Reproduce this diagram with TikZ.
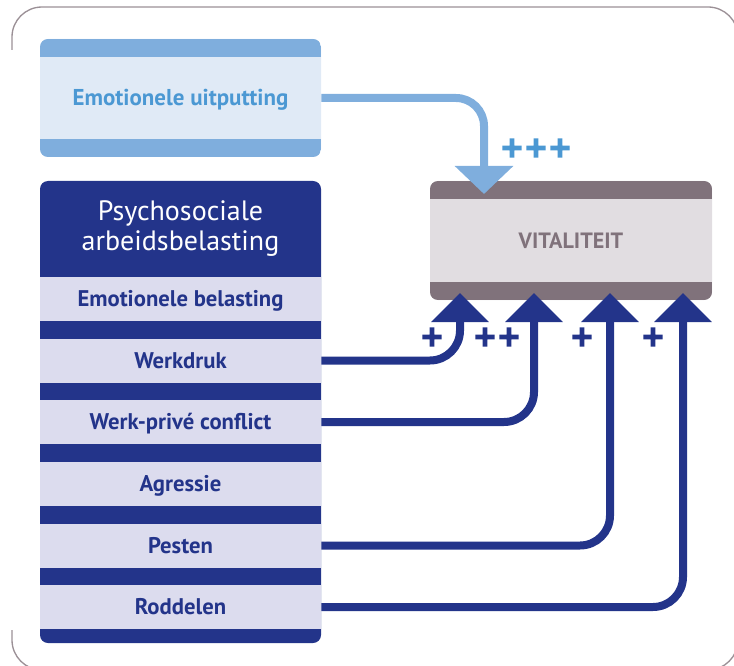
\documentclass[tikz,border=0pt]{standalone}
\usepackage{fontspec}
\setmainfont{PT Sans}
\newfontfamily\plusfont{DejaVu Sans}[FakeBold=5]
\usetikzlibrary{arrows.meta}
\definecolor{dblue}{HTML}{23348A}
\definecolor{rowfill}{HTML}{DCDCEE}
\definecolor{lband}{HTML}{7FAEDD}
\definecolor{lfill}{HTML}{E0EAF6}
\definecolor{ltext}{HTML}{4B98D3}
\definecolor{mauve}{HTML}{80727B}
\definecolor{mfill}{HTML}{E1DDE1}
\definecolor{frame}{HTML}{9B9096}
\tikzset{
  bandbox/.style 2 args={rounded corners=6pt, fill=#1, inner sep=0pt,
    path picture={
      \fill[#2, sharp corners] (path picture bounding box.north west) rectangle ([yshift=-13.5pt]path picture bounding box.north east);
      \fill[#2, sharp corners] (path picture bounding box.south west) rectangle ([yshift=13.5pt]path picture bounding box.south east);}},
  rowbox/.style={fill=rowfill, minimum width=210.75pt, minimum height=33pt, inner sep=0pt,
    text=dblue, font=\bfseries\fontsize{17}{20}\selectfont, text height=11.9pt, text depth=0pt},
  darkconn/.style={draw=dblue, line width=6pt, rounded corners=22.5pt,
    -{Triangle[width=42pt,length=21.75pt]}},
  lightconn/.style={draw=lband, line width=6pt, rounded corners=21pt,
    -{Triangle[width=42.75pt,length=21pt]}},
  pluslbl/.style={inner sep=0pt, font=\plusfont\bfseries\fontsize{21.5}{21.5}\selectfont}
}
\begin{document}
\begin{tikzpicture}[x=0.75pt,y=-0.75pt]
\useasboundingbox (0,0) rectangle (734,666);
% outer frame
\draw[frame, line width=1pt, rounded corners=22.5pt] (12,50) -- (12,7) -- (738,7) -- (738,670) -- (12,670) -- (12,630);
% Emotionele uitputting
\node[bandbox={lfill}{lband}, minimum width=210.75pt, minimum height=88.5pt,
  text=ltext, font=\bfseries\fontsize{17.2}{20}\selectfont, text height=12pt, text depth=-1.5pt] (uit) at (180.5,98) {Emotionele uitputting};
% Psychosociale box
\node[fill=dblue, rounded corners=6pt, minimum width=210.75pt, minimum height=346.5pt, inner sep=0pt] (psb) at (180.5,412) {};
\node[text=white, align=center, inner sep=0pt, font=\fontsize{21}{22.5}\selectfont] (head) at (180.5,229) {Psychosociale\\arbeidsbelasting};
\node[rowbox] (emo) at (180.5,299) {Emotionele belasting};
\node[rowbox] (wd) at (180.5,360.5) {Werkdruk};
\node[rowbox] (wp) at (180.5,422) {Werk-privé conflict};
\node[rowbox] (agr) at (180.5,484) {Agressie};
\node[rowbox] (pes) at (180.5,545.5) {Pesten};
\node[rowbox] (rod) at (180.5,607) {Roddelen};
% Vitaliteit
\node[bandbox={mfill}{mauve}, minimum width=211.5pt, minimum height=89.25pt,
  text=mauve, font=\bfseries\fontsize{16.6}{20}\selectfont, text height=11.6pt, text depth=-3.8pt] (vit) at (571,240.5) {VITALITEIT};
% tips
\coordinate (tu) at (484,194);
\coordinate (t1) at (460,293);
\coordinate (t2) at (534,293);
\coordinate (t3) at (610,293);
\coordinate (t4) at (683,293);
% connectors
\draw[lightconn] (uit.east) -| (tu);
\draw[darkconn] (wd.east) -| (t1);
\draw[darkconn] (wp.east) -| (t2);
\draw[darkconn] (pes.east) -| (t3);
\draw[darkconn] (rod.east) -| (t4);
% labels
\node[pluslbl, text=ltext] (l0) at (536,148) {+++};
\node[pluslbl, text=dblue] (l1) at (432,337) {+};
\node[pluslbl, text=dblue] (l2) at (497,337) {++};
\node[pluslbl, text=dblue] (l3) at (582,337) {+};
\node[pluslbl, text=dblue] (l4) at (653,337) {+};
\end{tikzpicture}
\end{document}
